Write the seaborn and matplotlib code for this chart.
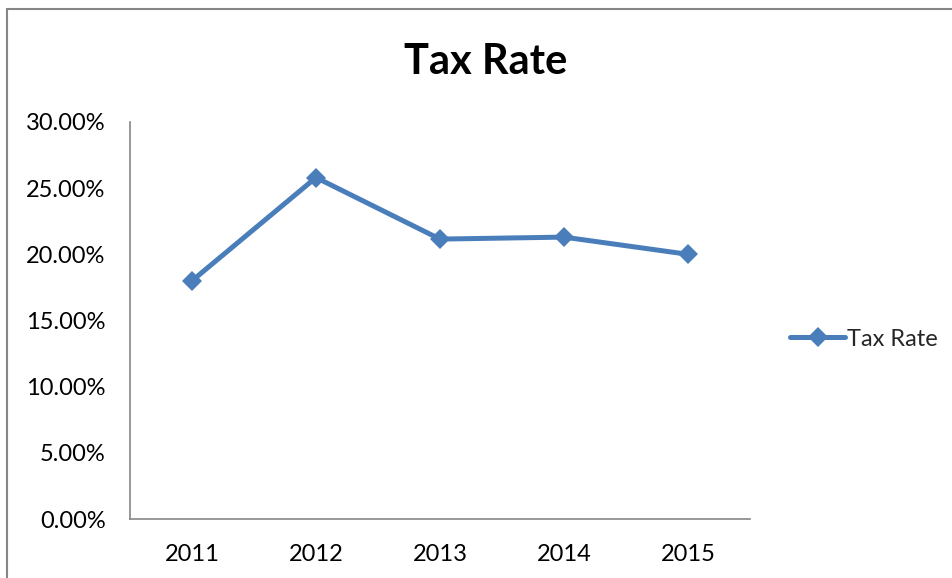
"""
Tax rate by year, line chart with diamond markers
"""

import matplotlib.pyplot as plt
import numpy as np
import pandas as pd
import seaborn as sns
from matplotlib.patches import Rectangle
from matplotlib.ticker import FixedLocator, PercentFormatter

years = ["2011", "2012", "2013", "2014", "2015"]
tax_rate = [18.0, 25.8, 21.15, 21.3, 20.0]
y_ticks = [0, 5, 10, 15, 20, 25, 30]

df = pd.DataFrame({"Year": years, "Tax Rate": tax_rate})

sns.set_style("white")
plt.rcParams["font.family"] = ["Lato", "DejaVu Sans"]

line_color = "#4a7ebb"
axis_color = "#868686"

fig = plt.figure(figsize=(9.53, 5.78), dpi=100)
ax = fig.add_axes([0.1364, 0.102, 0.6506, 0.687])

sns.lineplot(
    data=df,
    x="Year",
    y="Tax Rate",
    ax=ax,
    color=line_color,
    linewidth=3.6,
    marker="D",
    markersize=10.5,
    markeredgewidth=0,
    label="Tax Rate",
)

ax.set_xlim(-0.5, len(years) - 0.5)
ax.set_ylim(0, 30)
ax.set_yticks(y_ticks)
ax.yaxis.set_major_formatter(PercentFormatter(decimals=2))
ax.set_xlabel("")
ax.set_ylabel("")

# category boundaries get the tick marks, labels stay centred
ax.xaxis.set_minor_locator(FixedLocator(np.arange(-0.5, len(years), 1.0)))
ax.tick_params(axis="x", which="major", length=0, pad=18, labelsize=17)
ax.tick_params(axis="x", which="minor", length=4.5, width=1, color=axis_color, direction="out")
ax.tick_params(axis="y", length=4.5, width=1, color=axis_color, direction="out", pad=13, labelsize=17)
ax.tick_params(axis="both", labelcolor="black")

sns.despine(ax=ax)
for side in ["left", "bottom"]:
    ax.spines[side].set_color(axis_color)
    ax.spines[side].set_linewidth(1.2)

ax.get_legend().remove()
handles, labels = ax.get_legend_handles_labels()
fig.legend(
    handles,
    labels,
    loc="center left",
    bbox_to_anchor=(0.8195, 1 - 339 / 578),
    frameon=False,
    fontsize=17,
    handlelength=2.3,
    handletextpad=0.1,
    borderaxespad=0,
)

fig.text(486 / 953, 1 - 62 / 578, "Tax Rate", ha="center", va="center", fontsize=30,
         fontweight="bold", color="black")

# outer chart border, partly cropped in the reference
fig.patches.append(
    Rectangle((7 / 953, -0.1), 1.2, 1.1 - 9 / 578, transform=fig.transFigure, fill=False,
              edgecolor=axis_color, linewidth=1.5)
)

plt.savefig("out.png", dpi=100)
